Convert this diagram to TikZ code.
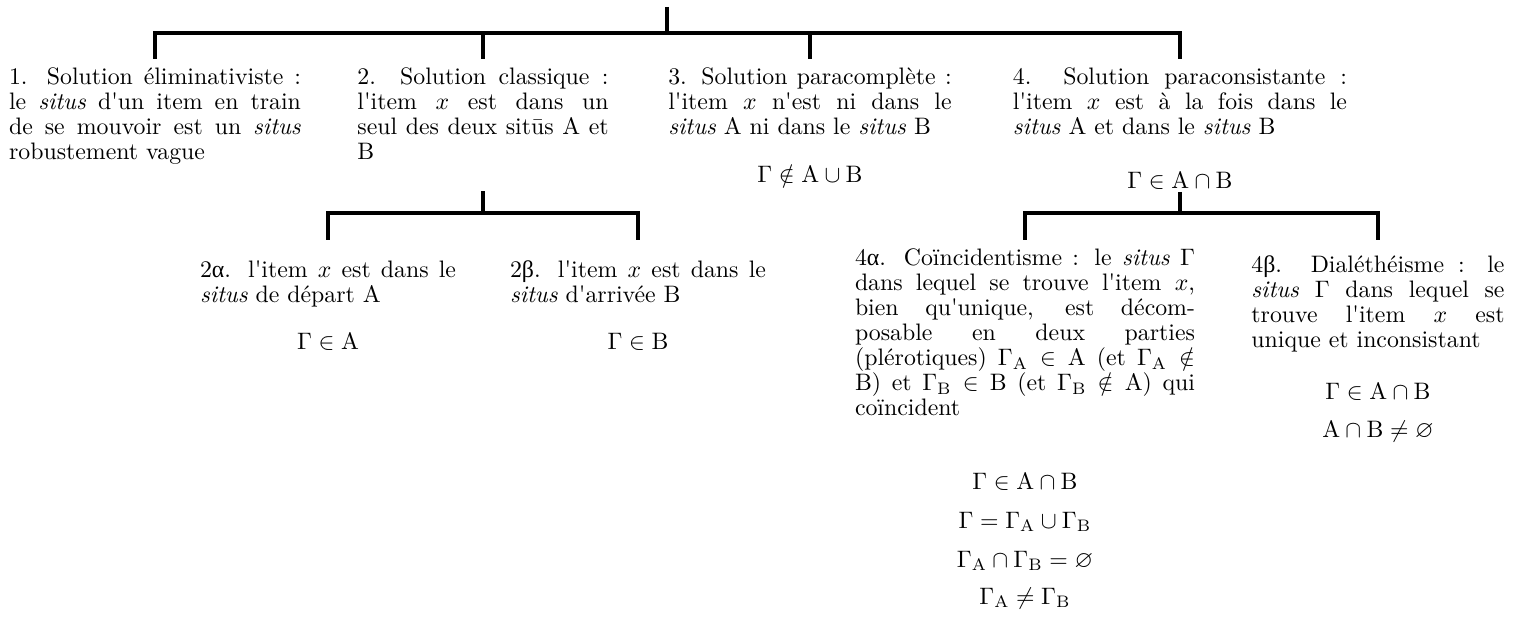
\documentclass[tikz,border=0pt]{standalone}
\usepackage{fontspec}
\usepackage{amssymb}
\newfontfamily\lmr{lmroman10}[Extension=.otf, UprightFont=*-regular, ItalicFont=*-italic, BoldFont=*-bold]
\newfontfamily\grk{Liberation Serif}
\newcommand{\rA}{\mathrm{A}}
\newcommand{\rB}{\mathrm{B}}
\begin{document}
\begin{tikzpicture}[x=0.42pt, y=-0.42pt,
  sol/.style={anchor=north, inner xsep=0pt, inner ysep=3.2pt, align=justify,
    font=\lmr\fontsize{10}{10.5}\selectfont,
    execute at begin node=\strut, execute at end node=\strut},
  frm/.style={anchor=base, inner sep=1pt},
  branch/.style={line width=1.35pt}]
\useasboundingbox (0,0) rectangle (1522,623);
\coordinate (root) at (667,7);
\coordinate (hub) at (667,33);
\node[sol, text width=122.6pt] (s1) at (155,59){1. Solution éliminativiste :\linebreak le \emph{situs} d'un item en train\linebreak de se mouvoir est un \emph{situs}\linebreak robustement vague};
\node[sol, text width=105.5pt, text depth=41.3pt] (s2) at (483,59){2. Solution classique :\linebreak l'item $x$ est dans un\linebreak seul des deux sitūs A et\linebreak B};
\node[sol, text width=119pt] (s3) at (810,59){3. Solution paracomplète :\linebreak l'item $x$ n'est ni dans le\linebreak \emph{situs} A ni dans le \emph{situs} B};
\node[frm] (f3) at (810,183){$\Gamma \notin \rA \cup \rB$};
\node[sol, text width=140.3pt] (s4) at (1180,59){4. Solution paraconsistante :\linebreak l'item $x$ est à la fois dans le\linebreak \emph{situs} A et dans le \emph{situs} B};
\node[frm] (f4) at (1180,188){$\Gamma \in \rA \cap \rB$};
\draw[branch] (root) -- (hub);
\draw[branch] (hub) -| (s1);
\draw[branch] (hub) -| (s2);
\draw[branch] (hub) -| (s3);
\draw[branch] (hub) -| (s4);
\coordinate (hub2) at (483,213);
\node[sol, inner ysep=8.2pt, text width=107.5pt] (s2a) at (328,240){2{\grk α}. l'item $x$ est dans le\linebreak \emph{situs} de départ A};
\node[frm] (f2a) at (328,349){$\Gamma \in \rA$};
\node[sol, inner ysep=8.2pt, text width=107.5pt] (s2b) at (638,240){2{\grk β}. l'item $x$ est dans le\linebreak \emph{situs} d'arrivée B};
\node[frm] (f2b) at (638,349){$\Gamma \in \rB$};
\draw[branch] (s2) -- (hub2);
\draw[branch] (hub2) -| (s2a);
\draw[branch] (hub2) -| (s2b);
\coordinate (hub4) at (1180,213);
\node[sol, inner ysep=3.2pt, text width=142.8pt] (s4a) at (1025,240){4{\grk α}. Coïncidentisme : le \emph{situs} $\Gamma$\linebreak dans lequel se trouve l'item $x$,\linebreak bien qu'unique, est décom-\linebreak posable en deux parties\linebreak (plérotiques) $\Gamma_{\rA} \in \rA$ (et $\Gamma_{\rA} \notin$\linebreak B) et $\Gamma_{\rB} \in \rB$ (et $\Gamma_{\rB} \notin \rA$) qui\linebreak coïncident};
\node[frm] (f4a1) at (1025,489){$\Gamma \in \rA \cap \rB$};
\node[frm] (f4a2) at (1025,528){$\Gamma = \Gamma_{\rA} \cup \Gamma_{\rB}$};
\node[frm] (f4a3) at (1025,567){$\Gamma_{\rA} \cap \Gamma_{\rB} = \varnothing$};
\node[frm] (f4a4) at (1025,604){$\Gamma_{\rA} \neq \Gamma_{\rB}$};
\node[sol, inner ysep=6.1pt, text width=106.3pt] (s4b) at (1378,240){4{\grk β}. Dialéthéisme : le\linebreak \emph{situs} $\Gamma$ dans lequel se\linebreak trouve l'item $x$ est\linebreak unique et inconsistant};
\node[frm] (f4b1) at (1378,399){$\Gamma \in \rA \cap \rB$};
\node[frm] (f4b2) at (1378,437){$\rA \cap \rB \neq \varnothing$};
\draw[branch] (f4) -- (hub4);
\draw[branch] (hub4) -| (s4a);
\draw[branch] (hub4) -| (s4b);
\end{tikzpicture}
\end{document}
